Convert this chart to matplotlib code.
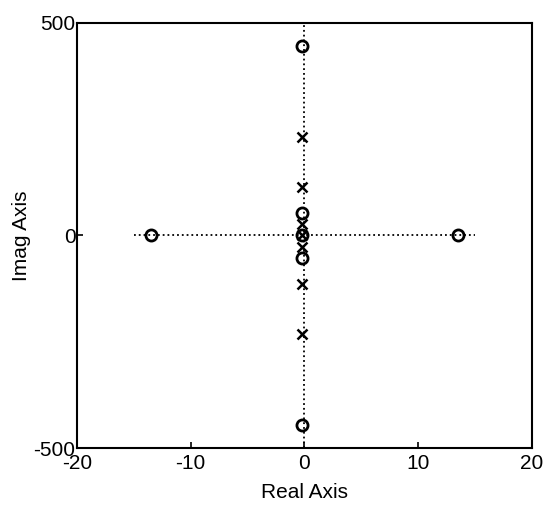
import numpy as np
import matplotlib.pyplot as plt

plt.rcParams['font.family'] = ['Liberation Sans', 'DejaVu Sans']
plt.rcParams['axes.unicode_minus'] = False

# zeros and poles
zeros_re = [-13.5, 13.5, -0.2, -0.2, -0.2, -0.2, -0.2]
zeros_im = [0, 0, 446, -446, 52, -52, 0]
poles_re = [-0.2, -0.2, -0.2, -0.2, -0.2, -0.2, -0.2]
poles_im = [232, -232, 114, -114, 27, -27, 0]

xticks = [-20, -10, 0, 10, 20]
yticks = [-500, 0, 500]

fig = plt.figure(figsize=(5.49, 5.08), dpi=100)
ax = fig.add_axes([0.140, 0.118, 0.829, 0.837])

# dotted axis lines
ax.plot([-15, 15], [0, 0], color='black', linestyle=':', linewidth=1.3)
ax.plot([0, 0], [-500, 500], color='black', linestyle=':', linewidth=1.3)

ax.plot(zeros_re, zeros_im, 'o', markerfacecolor='none', markeredgecolor='black',
        markersize=8, markeredgewidth=2)
ax.plot(poles_re, poles_im, 'x', color='black', markersize=7, markeredgewidth=1.8)

ax.set_xlim(-20, 20)
ax.set_ylim(-500, 500)
ax.set_xticks(xticks)
ax.set_yticks(yticks)
ax.tick_params(direction='in', length=4, labelsize=15, width=1.2)
ax.tick_params(axis='x', pad=4)
ax.tick_params(axis='y', pad=1)
for s in ax.spines.values():
    s.set_linewidth(1.5)
ax.set_xlabel('Real Axis', fontsize=15)
ax.set_ylabel('Imag Axis', fontsize=15)
ax.xaxis.set_label_coords(0.5, -0.083)
ax.yaxis.set_label_coords(-0.1, 0.5)

fig.savefig('out.png', dpi=100)
